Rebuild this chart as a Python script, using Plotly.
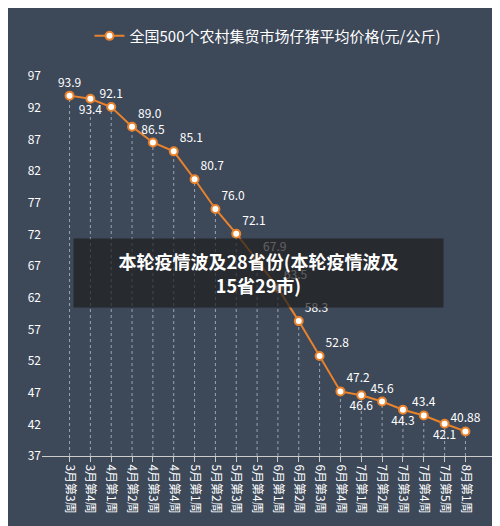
import plotly.graph_objects as go

weeks = ["3月第3周", "3月第4周", "4月第1周", "4月第2周", "4月第3周", "4月第4周",
         "5月第1周", "5月第2周", "5月第3周", "5月第4周", "6月第1周", "6月第2周",
         "6月第3周", "6月第4周", "7月第1周", "7月第2周", "7月第3周", "7月第4周",
         "7月第5周", "8月第1周"]
price = [93.9, 93.4, 92.1, 89.0, 86.5, 85.1, 80.7, 76.0, 72.1, 67.9, 63.5, 58.3,
         52.8, 47.2, 46.6, 45.6, 44.3, 43.4, 42.1, 40.88]
labels = ["93.9", "93.4", "92.1", "89.0", "86.5", "85.1", "80.7", "76.0", "72.1", "67.9",
          "63.5", "58.3", "52.8", "47.2", "46.6", "45.6", "44.3", "43.4", "42.1", "40.88"]
pos = ["top center", "bottom center", "top center", "top right", "top center", "top right",
       "top right", "top right", "top right", "top right", "top right", "top right",
       "top right", "top right", "bottom center", "top center", "bottom center",
       "top center", "bottom center", "top center"]

# dotted drop lines
dx, dy = [], []
for w, p in zip(weeks, price):
    dx += [w, w, None]
    dy += [37, p, None]

fig = go.Figure()
fig.add_scatter(x=dx, y=dy, mode="lines", showlegend=False, hoverinfo="skip",
                line=dict(color="#9aa3b0", width=1, dash="dot"))
fig.add_scatter(x=weeks, y=price, mode="lines+markers+text", text=labels,
                textposition=pos, textfont=dict(color="white", size=12),
                name="全国500个农村集贸市场仔猪平均价格(元/公斤)",
                line=dict(color="#e8822c", width=2),
                marker=dict(color="white", size=8, line=dict(color="#e8822c", width=2)))

fig.update_layout(
    width=500, height=526,
    paper_bgcolor="#3d4859", plot_bgcolor="#3d4859",
    font=dict(family="Noto Sans CJK SC", color="white"),
    margin=dict(l=34, r=15, t=60, b=78),
    legend=dict(orientation="h", x=0.5, xanchor="center", y=1.105, yanchor="middle",
                font=dict(size=15, color="white")),
    xaxis=dict(tickangle=90, tickfont=dict(size=12, color="white"), showgrid=False,
               linecolor="#cccccc", ticks="outside", tickcolor="#cccccc"),
    yaxis=dict(range=[37, 97], tickvals=list(range(37, 98, 5)), showgrid=False,
               tickfont=dict(size=12, color="white"), zeroline=False),
)
fig.add_annotation(xref="paper", yref="paper", x=0.48, y=0.482, showarrow=False,
                   text="<b>本轮疫情波及28省份(本轮疫情波及<br>15省29市)</b>",
                   font=dict(size=18, color="white"), bgcolor="rgba(30,30,30,0.7)",
                   width=367, height=66)
fig.write_html("out.html")
